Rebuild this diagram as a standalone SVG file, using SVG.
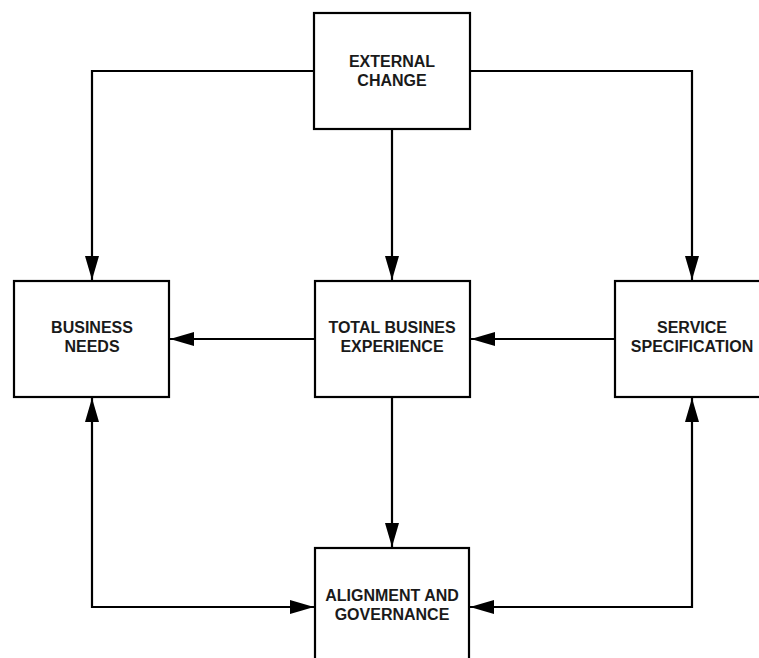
<svg xmlns="http://www.w3.org/2000/svg" width="759" height="658" viewBox="0 0 759 658">
  <style>
    .box { fill: #ffffff; stroke: #000000; stroke-width: 2.2; }
    .lbl { font-family: "Liberation Sans", Arial, sans-serif; font-size: 16px; font-weight: bold; fill: #1a1a1a; text-anchor: middle; }
    .wire { fill: none; stroke: #000000; stroke-width: 2.2; }
  </style>
  <defs>
    <marker id="arrow" viewBox="0 0 24 14" refX="24" refY="7" markerWidth="24" markerHeight="14" markerUnits="userSpaceOnUse" orient="auto-start-reverse">
      <path d="M0,0 L24,7 L0,14 Z" fill="#000000"/>
    </marker>
  </defs>

  <rect width="759" height="658" fill="#ffffff"/>

  <g id="connectors">
    <!-- External change fan-out -->
    <polyline class="wire" points="314,71 92,71 92,280" marker-end="url(#arrow)"/>
    <polyline class="wire" points="392,129 392,280" marker-end="url(#arrow)"/>
    <polyline class="wire" points="470,71 692,71 692,280" marker-end="url(#arrow)"/>
    <!-- Horizontal flows into Business Needs / Total Business Experience -->
    <polyline class="wire" points="315,339 170,339" marker-end="url(#arrow)"/>
    <polyline class="wire" points="615,339 471,339" marker-end="url(#arrow)"/>
    <!-- Down to Alignment and Governance -->
    <polyline class="wire" points="392,397 392,547" marker-end="url(#arrow)"/>
    <!-- Two-way loops around the bottom -->
    <polyline class="wire" points="92,398 92,607 314,607" marker-start="url(#arrow)" marker-end="url(#arrow)"/>
    <polyline class="wire" points="692,398 692,607 470,607" marker-start="url(#arrow)" marker-end="url(#arrow)"/>
  </g>

  <g id="external-change">
    <rect class="box" x="314" y="13" width="156" height="116"/>
    <text class="lbl" x="392" y="67">EXTERNAL</text>
    <text class="lbl" x="392" y="86">CHANGE</text>
  </g>

  <g id="business-needs">
    <rect class="box" x="14" y="281" width="155" height="116"/>
    <text class="lbl" x="92" y="333">BUSINESS</text>
    <text class="lbl" x="92" y="352">NEEDS</text>
  </g>

  <g id="total-business-experience">
    <rect class="box" x="315" y="281" width="155" height="116"/>
    <text class="lbl" x="392" y="333">TOTAL BUSINES</text>
    <text class="lbl" x="392" y="352">EXPERIENCE</text>
  </g>

  <g id="service-specification">
    <rect class="box" x="615" y="281" width="155" height="116"/>
    <text class="lbl" x="692" y="333">SERVICE</text>
    <text class="lbl" x="692" y="352">SPECIFICATION</text>
  </g>

  <g id="alignment-governance">
    <rect class="box" x="315" y="548" width="154" height="120"/>
    <text class="lbl" x="392" y="601">ALIGNMENT AND</text>
    <text class="lbl" x="392" y="620">GOVERNANCE</text>
  </g>
</svg>
